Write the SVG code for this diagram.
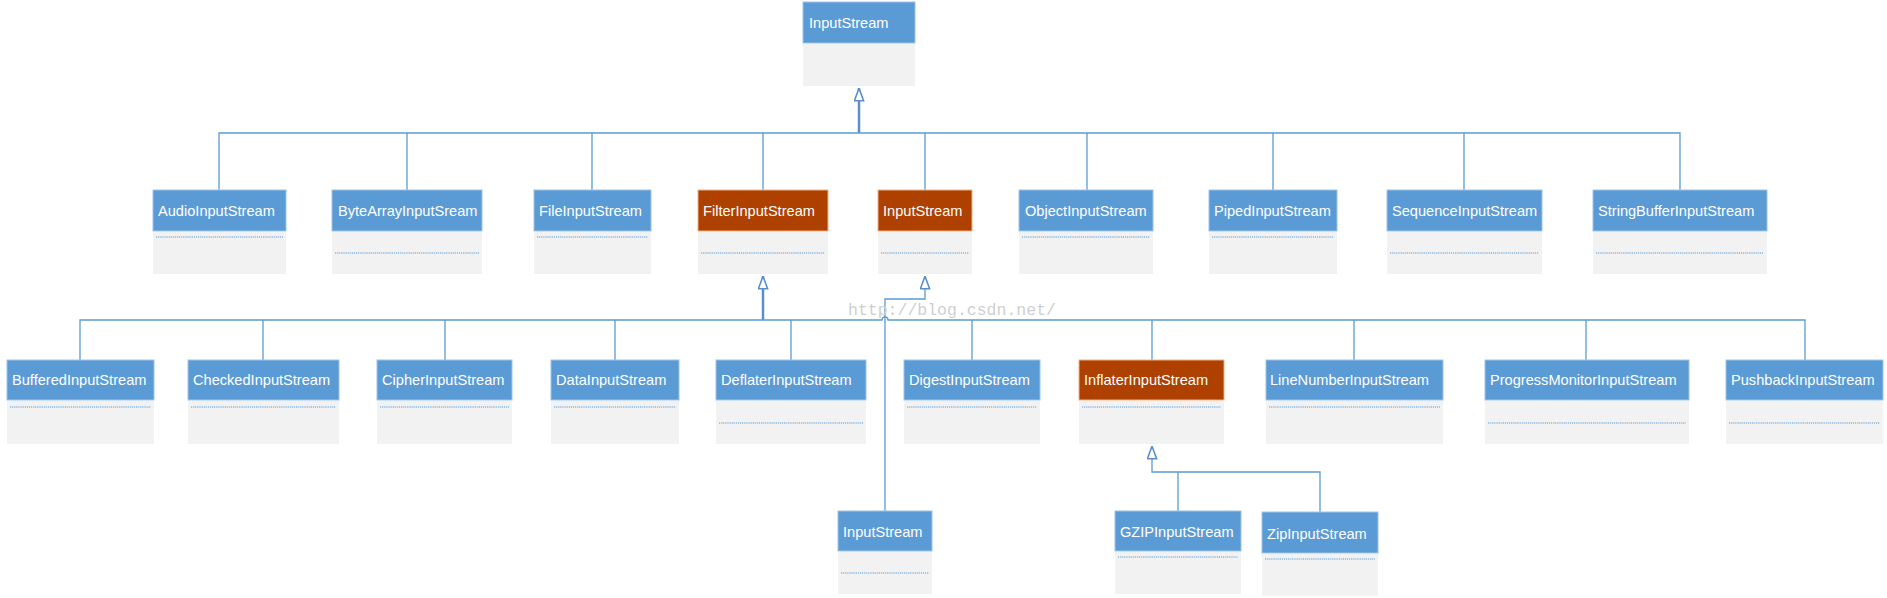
<svg xmlns="http://www.w3.org/2000/svg" width="1887" height="598" viewBox="0 0 1887 598">
<style>
.hb{fill:#5b9bd5;stroke:#9dc3e6;stroke-width:1}
.ho{fill:#ae4100;stroke:#f4b183;stroke-width:1}
.bd{fill:#f2f2f2}
.t{font-family:"Liberation Sans",Arial,sans-serif;font-size:14.6px;fill:#ffffff}
.dl{stroke:#5b9bd5;stroke-width:1.2;stroke-dasharray:1.2 0.9;fill:none}
.c{stroke:#5b9bd5;stroke-width:1.3;fill:none}
.ct{stroke:#5b8fcc;stroke-width:2.5;fill:none}
.wm{font-family:"Liberation Mono",monospace;font-size:16.5px;fill:#cfcfcf}
</style>
<defs>
<marker id="tri" markerUnits="userSpaceOnUse" viewBox="0 0 14 11" refX="13.5" refY="5.5" markerWidth="14" markerHeight="11" orient="auto">
<path d="M0.7,0.9 L13.3,5.5 L0.7,10.1 Z" fill="#ffffff" stroke="#5b8fcc" stroke-width="1.6"/>
</marker>
</defs>
<rect width="1887" height="598" fill="#ffffff"/>

<g id="connectors">
<path class="ct" d="M859,133 V88" marker-end="url(#tri)"/>
<path class="c" d="M219,190 V133 H1680 V190"/>
<path class="c" d="M407,133 V190 M592,133 V190 M763,133 V190 M925,133 V190 M1087,133 V190 M1273,133 V190 M1464,133 V190"/>
<path class="ct" d="M763,320 V276" marker-end="url(#tri)"/>
<path class="c" d="M80,360 V320 H882 a3,3 0 0 1 6,0 H1805 V360"/>
<path class="c" d="M263,320 V360 M445,320 V360 M615,320 V360 M791,320 V360 M972,320 V360 M1152,320 V360 M1354,320 V360 M1586,320 V360"/>
<path class="c" d="M885,511 V299 H925 V276" marker-end="url(#tri)"/>
<path class="c" d="M1320,512 V472 H1152 V446" marker-end="url(#tri)"/>
<path class="c" d="M1178,511 V472"/>
</g>

<g id="n-inputstream-top">
<rect class="hb" x="803" y="2" width="112" height="41"/>
<rect class="bd" x="803" y="44" width="112" height="42"/>
<text class="t" x="809" y="28">InputStream</text>
</g>

<g id="n-audio">
<rect class="hb" x="153" y="190" width="133" height="41"/>
<rect class="bd" x="153" y="232" width="133" height="42"/>
<line class="dl" x1="156" y1="237" x2="283" y2="237"/>
<text class="t" x="158" y="216">AudioInputStream</text>
</g>
<g id="n-bytearray">
<rect class="hb" x="332" y="190" width="150" height="41"/>
<rect class="bd" x="332" y="232" width="150" height="42"/>
<line class="dl" x1="335" y1="253" x2="479" y2="253"/>
<text class="t" x="338" y="216">ByteArrayInputSream</text>
</g>
<g id="n-file">
<rect class="hb" x="534" y="190" width="117" height="41"/>
<rect class="bd" x="534" y="232" width="117" height="42"/>
<line class="dl" x1="537" y1="237" x2="648" y2="237"/>
<text class="t" x="539" y="216">FileInputStream</text>
</g>
<g id="n-filter">
<rect class="ho" x="698" y="190" width="130" height="41"/>
<rect class="bd" x="698" y="232" width="130" height="42"/>
<line class="dl" x1="701" y1="253" x2="825" y2="253"/>
<text class="t" x="703" y="216">FilterInputStream</text>
</g>
<g id="n-inputstream-2">
<rect class="ho" x="878" y="190" width="94" height="41"/>
<rect class="bd" x="878" y="232" width="94" height="42"/>
<line class="dl" x1="881" y1="253" x2="969" y2="253"/>
<text class="t" x="883" y="216">InputStream</text>
</g>
<g id="n-object">
<rect class="hb" x="1019" y="190" width="134" height="41"/>
<rect class="bd" x="1019" y="232" width="134" height="42"/>
<line class="dl" x1="1022" y1="237" x2="1150" y2="237"/>
<text class="t" x="1025" y="216">ObjectInputStream</text>
</g>
<g id="n-piped">
<rect class="hb" x="1209" y="190" width="128" height="41"/>
<rect class="bd" x="1209" y="232" width="128" height="42"/>
<line class="dl" x1="1212" y1="237" x2="1334" y2="237"/>
<text class="t" x="1214" y="216">PipedInputStream</text>
</g>
<g id="n-sequence">
<rect class="hb" x="1387" y="190" width="155" height="41"/>
<rect class="bd" x="1387" y="232" width="155" height="42"/>
<line class="dl" x1="1390" y1="253" x2="1539" y2="253"/>
<text class="t" x="1392" y="216">SequenceInputStream</text>
</g>
<g id="n-stringbuffer">
<rect class="hb" x="1593" y="190" width="174" height="41"/>
<rect class="bd" x="1593" y="232" width="174" height="42"/>
<line class="dl" x1="1596" y1="253" x2="1764" y2="253"/>
<text class="t" x="1598" y="216">StringBufferInputStream</text>
</g>

<g id="n-buffered">
<rect class="hb" x="7" y="360" width="147" height="40"/>
<rect class="bd" x="7" y="401" width="147" height="43"/>
<line class="dl" x1="10" y1="407" x2="151" y2="407"/>
<text class="t" x="12" y="385">BufferedInputStream</text>
</g>
<g id="n-checked">
<rect class="hb" x="188" y="360" width="151" height="40"/>
<rect class="bd" x="188" y="401" width="151" height="43"/>
<line class="dl" x1="191" y1="407" x2="336" y2="407"/>
<text class="t" x="193" y="385">CheckedInputStream</text>
</g>
<g id="n-cipher">
<rect class="hb" x="377" y="360" width="135" height="40"/>
<rect class="bd" x="377" y="401" width="135" height="43"/>
<line class="dl" x1="380" y1="407" x2="509" y2="407"/>
<text class="t" x="382" y="385">CipherInputStream</text>
</g>
<g id="n-data">
<rect class="hb" x="551" y="360" width="128" height="40"/>
<rect class="bd" x="551" y="401" width="128" height="43"/>
<line class="dl" x1="554" y1="407" x2="676" y2="407"/>
<text class="t" x="556" y="385">DataInputStream</text>
</g>
<g id="n-deflater">
<rect class="hb" x="716" y="360" width="150" height="40"/>
<rect class="bd" x="716" y="401" width="150" height="43"/>
<line class="dl" x1="719" y1="423" x2="863" y2="423"/>
<text class="t" x="721" y="385">DeflaterInputStream</text>
</g>
<g id="n-digest">
<rect class="hb" x="904" y="360" width="136" height="40"/>
<rect class="bd" x="904" y="401" width="136" height="43"/>
<line class="dl" x1="907" y1="407" x2="1037" y2="407"/>
<text class="t" x="909" y="385">DigestInputStream</text>
</g>
<g id="n-inflater">
<rect class="ho" x="1079" y="360" width="145" height="40"/>
<rect class="bd" x="1079" y="401" width="145" height="43"/>
<line class="dl" x1="1082" y1="407" x2="1221" y2="407"/>
<text class="t" x="1084" y="385">InflaterInputStream</text>
</g>
<g id="n-linenumber">
<rect class="hb" x="1266" y="360" width="177" height="40"/>
<rect class="bd" x="1266" y="401" width="177" height="43"/>
<line class="dl" x1="1269" y1="407" x2="1440" y2="407"/>
<text class="t" x="1270" y="385">LineNumberInputStream</text>
</g>
<g id="n-progress">
<rect class="hb" x="1485" y="360" width="204" height="40"/>
<rect class="bd" x="1485" y="401" width="204" height="43"/>
<line class="dl" x1="1488" y1="423" x2="1686" y2="423"/>
<text class="t" x="1490" y="385">ProgressMonitorInputStream</text>
</g>
<g id="n-pushback">
<rect class="hb" x="1726" y="360" width="157" height="40"/>
<rect class="bd" x="1726" y="401" width="157" height="43"/>
<line class="dl" x1="1729" y1="423" x2="1880" y2="423"/>
<text class="t" x="1731" y="385">PushbackInputStream</text>
</g>

<g id="n-inputstream-3">
<rect class="hb" x="838" y="511" width="94" height="40"/>
<rect class="bd" x="838" y="552" width="94" height="42"/>
<line class="dl" x1="841" y1="573" x2="929" y2="573"/>
<text class="t" x="843" y="537">InputStream</text>
</g>
<g id="n-gzip">
<rect class="hb" x="1115" y="511" width="126" height="40"/>
<rect class="bd" x="1115" y="552" width="126" height="42"/>
<line class="dl" x1="1118" y1="557" x2="1238" y2="557"/>
<text class="t" x="1120" y="537">GZIPInputStream</text>
</g>
<g id="n-zip">
<rect class="hb" x="1262" y="512" width="116" height="41"/>
<rect class="bd" x="1262" y="554" width="116" height="42"/>
<line class="dl" x1="1265" y1="559" x2="1375" y2="559"/>
<text class="t" x="1267" y="539">ZipInputStream</text>
</g>

<text class="wm" x="848" y="315">http://blog.csdn.net/</text>
</svg>
